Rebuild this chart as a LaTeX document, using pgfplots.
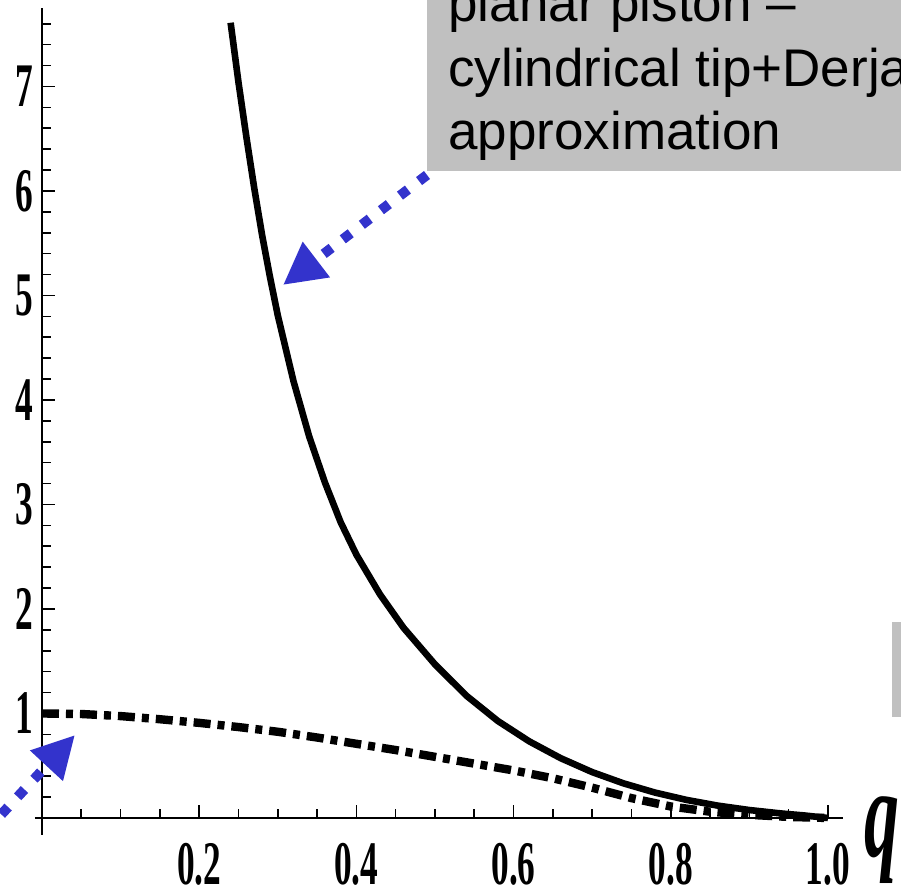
\documentclass[border=0pt]{standalone}
\usepackage{fontspec}
\setmainfont{Liberation Serif}
\newfontfamily\arial{Liberation Sans}
\usepackage{pgfplots}
\pgfplotsset{compat=1.18}
\usetikzlibrary{arrows.meta}
\definecolor{annblue}{RGB}{51,51,204}
\definecolor{boxgray}{RGB}{192,192,192}
\newcommand{\lbl}[1]{\scalebox{0.57}[1]{\fontsize{31pt}{31pt}\selectfont\bfseries #1}}

\begin{document}
\begin{tikzpicture}
\path[use as bounding box] (0,0) rectangle (450.5pt,447.5pt);
\clip (0,0) rectangle (450.5pt,447.5pt);
\begin{axis}[
  x=393pt, y=52.25pt,
  anchor=south west, at={(17.45pt,30.15pt)},
  axis lines*=middle,
  axis line style={black, line width=1pt},
  xmin=-0.009, xmax=1.019, ymin=-0.16, ymax=7.75,
  xtick={0,0.2,0.4,0.6,0.8,1.0}, minor x tick num=3,
  ytick={0,1,2,3,4,5,6,7,8}, minor y tick num=4,
  tick align=inside,
  major tick length=6.5pt, minor tick length=4.5pt,
  tick style={black, line width=0.8pt},
  /pgf/number format/assume math mode=true,
  xticklabel={\ifdim\tick pt=0pt\else\lbl{\pgfmathprintnumber[fixed,fixed zerofill,precision=1]{\tick}}\fi},
  yticklabel={\ifdim\tick pt=0pt\else\lbl{\pgfmathprintnumber[fixed,precision=0]{\tick}}\fi},
  xticklabel style={anchor=north, inner sep=0pt, yshift=-12.5pt},
  yticklabel style={anchor=east, inner sep=0pt, xshift=-4pt},
]
% cylindrical tip + Derjaguin approximation (solid)
\addplot[black, line width=3.3pt, line cap=butt] table {
0.24 7.61
0.25 7.04
0.26 6.52
0.27 6.03
0.28 5.58
0.29 5.18
0.30 4.81
0.32 4.18
0.34 3.65
0.36 3.21
0.38 2.83
0.40 2.52
0.43 2.14
0.46 1.82
0.50 1.47
0.54 1.17
0.58 0.928
0.62 0.733
0.66 0.572
0.70 0.439
0.74 0.331
0.78 0.243
0.82 0.173
0.86 0.118
0.90 0.076
0.94 0.0435
0.97 0.024
0.99 0.008
1.00 0.0
};
% dash-dotted curve
\addplot[black, line width=4.2pt, line cap=butt,
  dash pattern=on 8.5pt off 3.5pt on 3.5pt off 3.5pt] table {
0.00 1.00
0.05 0.995
0.10 0.975
0.15 0.945
0.20 0.91
0.25 0.87
0.30 0.825
0.35 0.77
0.40 0.71
0.45 0.65
0.50 0.585
0.55 0.52
0.60 0.455
0.65 0.38
0.70 0.29
0.75 0.19
0.80 0.11
0.85 0.06
0.90 0.03
0.95 0.01
1.00 0.0
};
\end{axis}
\begin{scope}[x=0.5pt, y=-0.5pt, yshift=447.5pt]
  \fill[boxgray] (427,-10) rectangle (930,171);
  \fill[boxgray] (892,622) rectangle (930,717);
  \begin{scope}[every node/.style={anchor=base west, inner sep=0pt,
      font=\arial\fontsize{26.5pt}{32pt}\selectfont}]
    \node at (448,22) {planar piston –};
    \node at (448,87) {cylindrical tip+Derjaguin};
    \node at (448,150) {approximation};
  \end{scope}
  \node[anchor=base west, inner sep=0pt] at (864,857)
    {\scalebox{0.55}[1]{\fontsize{63.5pt}{63.5pt}\selectfont\bfseries\itshape q}};
  \draw[annblue, line width=5pt, dash pattern=on 5pt off 7pt,
    -{Triangle[length=21pt,width=21pt]}] (427,175) -- (283,285);
  \draw[annblue, line width=5pt, dash pattern=on 5pt off 7pt,
    -{Triangle[length=21pt,width=21pt]}] (-15,832) -- (75,735);
\end{scope}
\end{tikzpicture}
\end{document}
